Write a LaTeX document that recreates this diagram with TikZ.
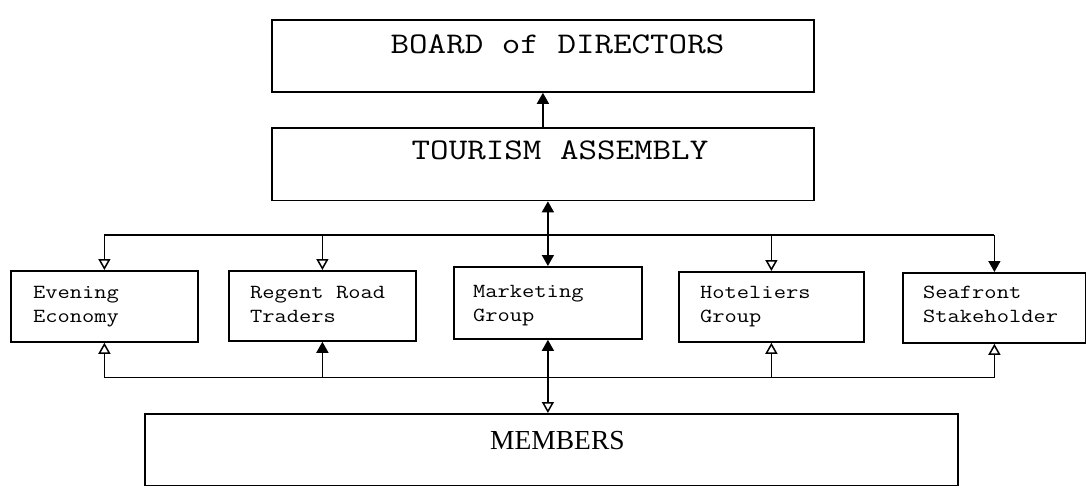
\documentclass[tikz,border=0pt]{standalone}
\usepackage{fontspec}
\setmainfont{Liberation Serif}
\usetikzlibrary{arrows.meta,calc}
% typewriter labels, widened to the proportions of a Courier face
\newcommand{\wide}[2]{\scalebox{#1}[1]{#2}}
\begin{document}
\begin{tikzpicture}[x=1pt,y=-1pt,
  box/.style={draw, line width=1.8pt, inner sep=0pt, anchor=north west},
  wire/.style={line width=1.5pt},
  hollowtip/.style={wire, -{Triangle[open,width=12pt,length=11pt]}},
  fulltip/.style={wire, -{Triangle[width=12pt,length=11pt]}},
  bothtips/.style={wire, {Triangle[width=12pt,length=11pt]}-{Triangle[width=12pt,length=11pt]}},
  mixtips/.style={wire, {Triangle[width=12pt,length=11pt]}-{Triangle[open,width=12pt,length=11pt]}},
  bigtext/.style={font=\fontsize{30}{36}\selectfont\ttfamily, inner sep=0pt, anchor=base},
  smalltext/.style={font=\fontsize{20}{24}\selectfont\ttfamily, inner sep=0pt, anchor=base west},
  membtext/.style={font=\fontsize{27.5}{32}\selectfont\rmfamily, inner sep=0pt, anchor=base west},
]
\useasboundingbox (0,0) rectangle (1086,495);
\fill[white] (0,0) rectangle (1086,495);

% top of the hierarchy
\node[box, minimum width=542pt, minimum height=71.5pt] (board) at (271,19.5) {};
\node[bigtext] (board-t) at ($(board.north west)+(286.5,34.5)$) {\wide{1.2}{BOARD of DIRECTORS}};

\node[box, minimum width=542pt, minimum height=72.5pt] (tourism) at (271,127) {};
\node[bigtext] (tourism-t) at ($(tourism.north west)+(289,32)$) {\wide{1.2}{TOURISM ASSEMBLY}};

% working groups
\node[box, minimum width=187pt, minimum height=71pt] (evening) at (10,270) {};
\node[smalltext] (evening-t) at ($(evening.north west)+(23,28)$) {\wide{1.19}{\parbox[t]{150pt}{Evening\\Economy}}};

\node[box, minimum width=187pt, minimum height=70pt] (regent) at (228,270) {};
\node[smalltext] (regent-t) at ($(regent.north west)+(22,28)$) {\wide{1.19}{\parbox[t]{150pt}{Regent Road\\Traders}}};

\node[box, minimum width=188pt, minimum height=72pt] (marketing) at (453,266) {};
\node[smalltext] (marketing-t) at ($(marketing.north west)+(20,31)$) {\wide{1.19}{\parbox[t]{150pt}{Marketing\\Group}}};

\node[box, minimum width=185pt, minimum height=70pt] (hoteliers) at (678,271) {};
\node[smalltext] (hoteliers-t) at ($(hoteliers.north west)+(22,27.5)$) {\wide{1.19}{\parbox[t]{150pt}{Hoteliers\\Group}}};

\node[box, minimum width=183pt, minimum height=70pt] (seafront) at (902,272) {};
\node[smalltext] (seafront-t) at ($(seafront.north west)+(21,26.5)$) {\wide{1.19}{\parbox[t]{150pt}{Seafront\\Stakeholder}}};

% membership
\node[box, minimum width=813pt, minimum height=71.5pt] (members) at (144,413) {};
\node[membtext] (members-t) at ($(members.north west)+(346,36.4)$) {MEMBERS};

% distribution buses
\coordinate (topbus) at (0,235);
\coordinate (lowbus) at (0,377.5);

% assembly reports to the board
\draw[fulltip] (tourism.north) -- (board.south);

% assembly <-> groups
\draw[bothtips] (tourism.south -| marketing.north) -- (marketing.north);
\draw[wire] (topbus -| evening.north) -- (topbus -| seafront.north);
\draw[hollowtip] (topbus -| evening.north) -- (evening.north);
\draw[hollowtip] (topbus -| regent.north) -- (regent.north);
\draw[hollowtip] (topbus -| hoteliers.north) -- (hoteliers.north);
\draw[fulltip] (topbus -| seafront.north) -- (seafront.north);

% groups <-> members
\draw[mixtips] (marketing.south) -- (marketing.south |- members.north);
\draw[wire] (lowbus -| evening.south) -- (lowbus -| seafront.south);
\draw[hollowtip] (lowbus -| evening.south) -- (evening.south);
\draw[fulltip] (lowbus -| regent.south) -- (regent.south);
\draw[hollowtip] (lowbus -| hoteliers.south) -- (hoteliers.south);
\draw[hollowtip] (lowbus -| seafront.south) -- (seafront.south);
\end{tikzpicture}
\end{document}
